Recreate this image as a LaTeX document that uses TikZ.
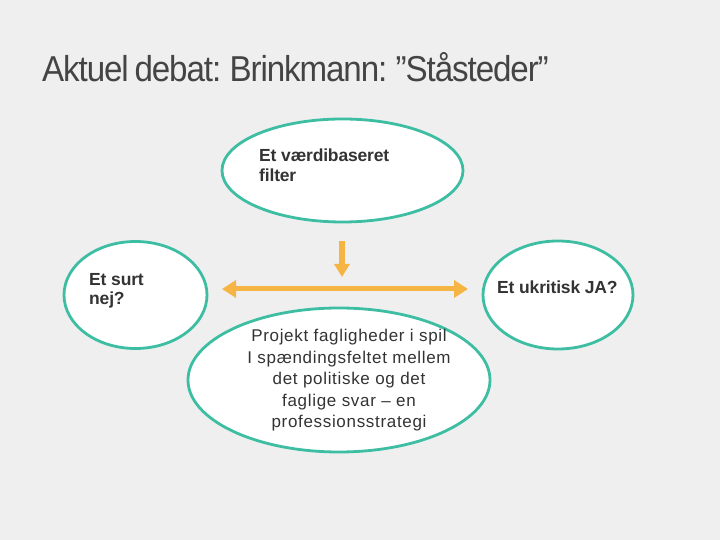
\documentclass[tikz,border=0pt]{standalone}
\usepackage{fontspec}
\setmainfont{Liberation Sans}
\newfontfamily\titlefont[FakeStretch=0.92, LetterSpace=-3, WordSpace=0.7]{Liberation Sans}
\newfontfamily\bodyfont[LetterSpace=4]{Liberation Sans}
\newfontfamily\lblfont[LetterSpace=-1]{Liberation Sans}
\usetikzlibrary{shapes.geometric,arrows.meta}
\definecolor{bg}{HTML}{EFEFEF}
\definecolor{teal}{HTML}{3DBEA3}
\definecolor{orng}{HTML}{F5B443}
\definecolor{txt}{HTML}{333333}
\definecolor{ttl}{HTML}{444444}
\tikzset{
  bubble/.style={ellipse, draw=teal, line width=2.8pt, fill=white, inner sep=0pt},
  lbl/.style={inner sep=0pt, text=txt, font=\lblfont\fontsize{17.5}{20}\selectfont\bfseries, align=left},
  body/.style={inner sep=0pt, text=txt, font=\bodyfont\fontsize{17}{21.5}\selectfont, align=center},
  bigarrow/.style={draw=orng, line width=5pt, {Triangle[width=17pt,length=14pt]}-{Triangle[width=17pt,length=14pt]}},
  downarrow/.style={draw=orng, line width=6pt, -{Triangle[width=15pt,length=13pt]}}
}
\begin{document}
\begin{tikzpicture}[x=1pt,y=1pt]
\fill[bg] (0,0) rectangle (720,540);
\useasboundingbox (0,0) rectangle (720,540);
\node[inner sep=0pt, anchor=base west, text=ttl, font=\titlefont\fontsize{36}{40}\selectfont] (title) at (42,458) {Aktuel debat: Brinkmann: ”Ståsteder”};
\node[bubble, minimum width=241pt, minimum height=103pt] (top) at (342.5,369.5) {};
\node[bubble, minimum width=143pt, minimum height=107pt] (left) at (135.5,245) {};
\node[bubble, minimum width=150pt, minimum height=108pt] (right) at (558,245) {};
\node[bubble, minimum width=302pt, minimum height=144pt] (bottom) at (339,160) {};
\node[lbl, anchor=base west] (ttext) at (259,378) {Et værdibaseret};
\node[lbl, anchor=base west] (ttext2) at (259,358) {filter};
\node[lbl, anchor=base west] (ltext) at (89,254) {Et surt};
\node[lbl, anchor=base west] (ltext2) at (89,235) {nej?};
\node[lbl, anchor=base west] (rtext) at (497,246) {Et ukritisk JA?};
\node[body, anchor=north] (btext) at (349,211) {Projekt fagligheder i spil\\I spændingsfeltet mellem\\det politiske og det\\faglige svar – en\\professionsstrategi};
\coordinate (ha) at (222,251);
\coordinate (hb) at (468,251);
\coordinate (va) at (342,299);
\coordinate (vb) at (342,263);
\draw[bigarrow] (ha) -- (hb);
\draw[downarrow] (va) -- (vb);
\end{tikzpicture}
\end{document}
